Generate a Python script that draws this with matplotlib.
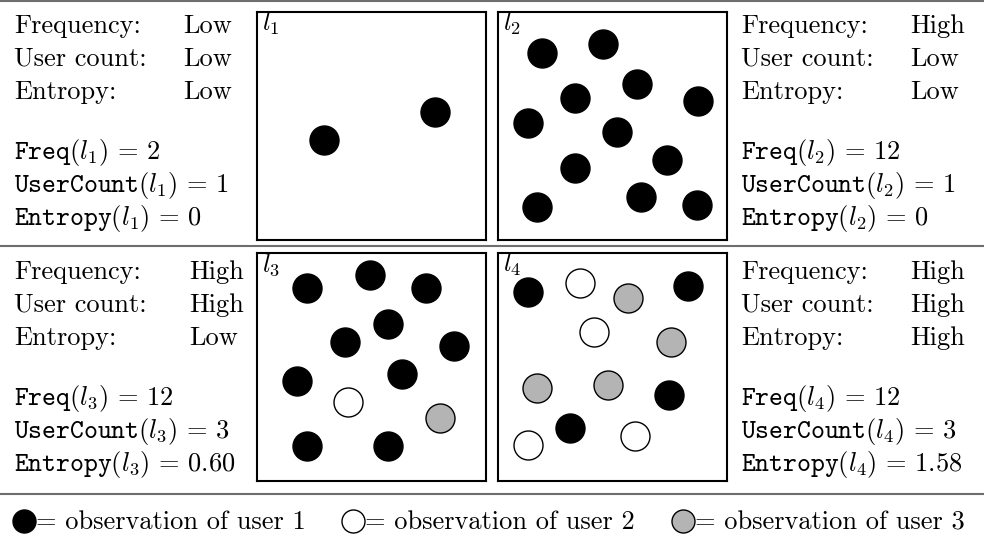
import matplotlib
matplotlib.use("Agg")
import matplotlib.pyplot as plt

plt.rcParams['mathtext.fontset'] = 'cm'
plt.rcParams['font.family'] = ['cmr10', 'DejaVu Serif']
plt.rcParams['axes.unicode_minus'] = False

# --- data ---------------------------------------------------------------
prop_names = ["Frequency:", "User count:", "Entropy:"]
levels = {
    "l1": ["Low", "Low", "Low"],
    "l2": ["High", "Low", "Low"],
    "l3": ["High", "High", "Low"],
    "l4": ["High", "High", "High"],
}
freq = {"l1": "2", "l2": "12", "l3": "12", "l4": "12"}
usercount = {"l1": "1", "l2": "1", "l3": "3", "l4": "3"}
entropy = {"l1": "0", "l2": "0", "l3": "0.60", "l4": "1.58"}

# dot positions inside each box (pixels from box top-left), per user
dots = {
    "l1": {1: [(67, 128), (178, 100)], 2: [], 3: []},
    "l2": {1: [(44, 41), (105, 32), (139, 72), (77, 86), (200, 89), (30, 111),
               (119, 120), (169, 148), (77, 156), (143, 185), (39, 195), (199, 193)],
           2: [], 3: []},
    "l3": {1: [(50, 35), (113, 22), (169, 35), (131, 71), (88, 89), (197, 93),
               (40, 128), (145, 121), (50, 193), (131, 193)],
           2: [(91, 149)],
           3: [(183, 165)]},
    "l4": {1: [(30, 39), (190, 33), (171, 142), (72, 175)],
           2: [(82, 30), (96, 79), (137, 183), (30, 192)],
           3: [(130, 45), (173, 89), (39, 135), (110, 132)]},
}
user_colors = {1: "black", 2: "white", 3: "#b4b4b4"}
legend_labels = ["= observation of user 1", "= observation of user 2",
                 "= observation of user 3"]

# --- layout -------------------------------------------------------------
W, H = 984, 544
BW, BH = 229, 228
boxes = {"l1": (257, 12), "l2": (498, 12), "l3": (257, 253), "l4": (498, 253)}
text_blocks = {  # x of labels, x of values, top baseline
    "l1": (14, 183, 33),
    "l2": (741, 910, 33),
    "l3": (14, 189, 279),
    "l4": (741, 910, 279),
}
FS = 19

fig = plt.figure(figsize=(W / 100, H / 100), dpi=100)
ax = fig.add_axes([0, 0, 1, 1])
ax.set_xlim(0, W)
ax.set_ylim(H, 0)
ax.axis('off')

# horizontal rules
for y in [1, 246, 494]:
    ax.plot([0, W], [y, y], color="#6e6e6e", lw=1.5, solid_capstyle='butt')

# text blocks
for key, (xl, xv, y0) in text_blocks.items():
    n = key[1]
    for i, name in enumerate(prop_names):
        ax.text(xl, y0 + 33 * i, name, fontsize=FS, va='baseline')
        ax.text(xv, y0 + 33 * i, levels[key][i], fontsize=FS, va='baseline')
    y1 = y0 + 126
    ax.text(xl, y1, r"$\mathtt{Freq}(l_%s)\,=\,%s$" % (n, freq[key]),
            fontsize=FS, va='baseline')
    ax.text(xl, y1 + 33, r"$\mathtt{UserCount}(l_%s)\,=\,%s$" % (n, usercount[key]),
            fontsize=FS, va='baseline')
    ax.text(xl, y1 + 66, r"$\mathtt{Entropy}(l_%s)\,=\,%s$" % (n, entropy[key]),
            fontsize=FS, va='baseline')

# location boxes
for key, (bx, by) in boxes.items():
    bax = fig.add_axes([bx / W, 1 - (by + BH) / H, BW / W, BH / H])
    bax.set_xlim(0, BW)
    bax.set_ylim(BH, 0)
    bax.set_xticks([])
    bax.set_yticks([])
    for sp in bax.spines.values():
        sp.set_linewidth(1.5)
    for user, pts in dots[key].items():
        if not pts:
            continue
        xs = [p[0] for p in pts]
        ys = [p[1] for p in pts]
        bax.scatter(xs, ys, s=(29 * 0.72) ** 2, c=user_colors[user],
                    edgecolors="black", linewidths=1, zorder=3)
    bax.text(5, 19, r"$l_%s$" % key[1], fontsize=FS, va='baseline')

# legend
leg_x = [24, 353, 683]
for i, lab in enumerate(legend_labels):
    ax.scatter([leg_x[i]], [521], s=(23 * 0.72) ** 2, c=user_colors[i + 1],
               edgecolors="black", linewidths=1, zorder=3)
    ax.text(leg_x[i] + 12, 529, lab, fontsize=FS, va='baseline')

fig.savefig("out.png", dpi=100)
